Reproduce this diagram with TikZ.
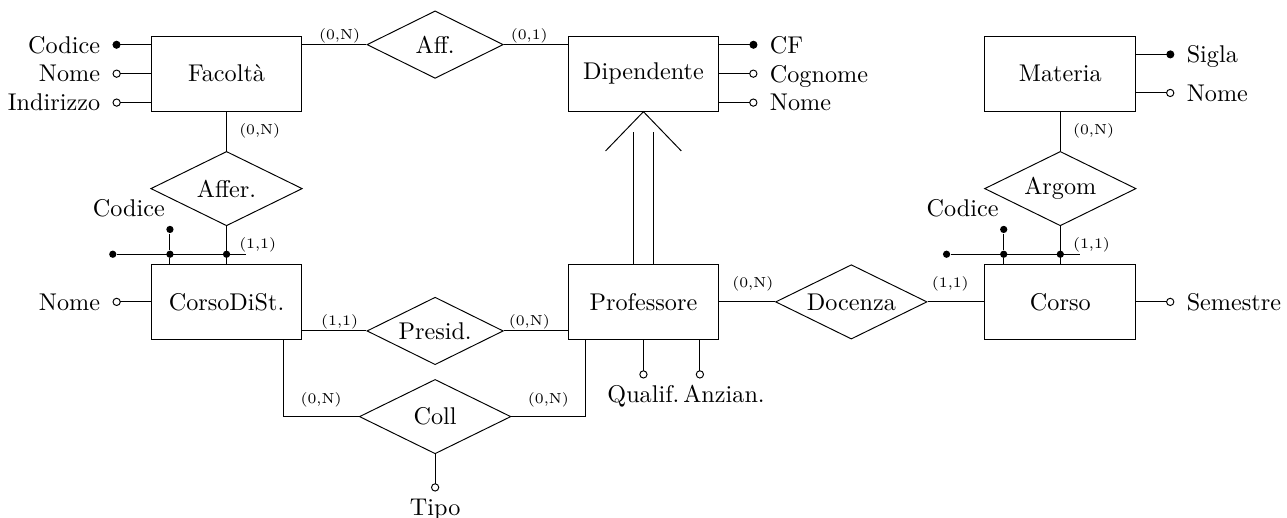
\documentclass[tikz,border=0pt]{standalone}
\usepackage{fontspec}
\usetikzlibrary{arrows.meta,positioning,shapes.geometric}

\begin{document}
\begin{tikzpicture}[
  node distance=2.21cm and 3.85cm,
  entity/.style={draw, minimum width=2.19cm, minimum height=1.09cm, inner sep=0pt},
  rel/.style={draw, diamond, aspect=2, inner sep=0pt, minimum width=2.2cm, minimum height=1.08cm},
  smallrel/.style={rel, minimum width=1.98cm, minimum height=0.98cm},
  attrtext/.style={inner sep=3.33pt, text depth=0pt},
  attrline/.style={-{Circle[open, length=3.4pt]}, shorten >=1.6pt},
  keyline/.style={-{Circle[length=3.3pt]}, shorten >=1.6pt},
  keydot/.style={circle, fill, inner sep=0pt, minimum size=3pt},
  card/.style={font=\fontsize{6pt}{7pt}\selectfont, inner sep=0.5pt}
]
\useasboundingbox (0,0) rectangle (18.69,-7.51);
\node[entity] (facolta) at (3.29,-1.07) {Facoltà};
\node[entity, right=of facolta] (dipendente) {Dipendente};
\node[entity, right=of dipendente] (materia) {Materia};
\node[entity, below=of facolta] (corsodist) {CorsoDiSt.};
\node[entity, below=of dipendente] (professore) {Professore};
\node[entity, below=of materia] (corso) {Corso};

\node[smallrel, right=0.93cm of facolta.north east, yshift=-0.13cm] (aff) {Aff.};
\node[rel, below=0.57cm of facolta] (affer) {Affer.};
\node[rel, below=0.57cm of materia] (argom) {Argom};
\node[smallrel, right=0.93cm of corsodist.south east, yshift=0.13cm] (presid) {Presid.};
\node[rel, right=0.81cm of professore] (docenza) {Docenza};
\node[rel, below=0.2cm of presid] (coll) {Coll};

\draw (aff.west -| facolta.east) -- (aff.west) node[card, pos=0.58, above] (caff1) {(0,N)};
\draw (aff.east -| dipendente.west) -- (aff.east) node[card, pos=0.6, above] (caff2) {(0,1)};
\draw (facolta) -- (affer) node[card, midway, right=0.16cm] (caffer1) {(0,N)};
\draw (affer) -- (corsodist) node[card, midway, right=0.16cm] (caffer2) {(1,1)};
\draw (materia) -- (argom) node[card, midway, right=0.16cm] (cargom1) {(0,N)};
\draw (argom) -- (corso) node[card, midway, right=0.16cm] (cargom2) {(1,1)};
\draw (presid.west -| corsodist.east) -- (presid.west) node[card, pos=0.58, above] (cpresid1) {(1,1)};
\draw (presid.east -| professore.west) -- (presid.east) node[card, pos=0.6, above] (cpresid2) {(0,N)};
\draw (professore) -- (docenza) node[card, pos=0.6, above=0.13cm] (cdoc1) {(0,N)};
\draw (corso) -- (docenza) node[card, pos=0.6, above=0.13cm] (cdoc2) {(1,1)};
\draw ([xshift=-0.28cm]corsodist.south east) |- (coll.west) node[card, pos=0.75, above=0.12cm] (ccoll1) {(0,N)};
\draw ([xshift=0.26cm]professore.south west) |- (coll.east) node[card, pos=0.75, above=0.12cm] (ccoll2) {(0,N)};

\draw ([xshift=-0.14cm]professore.north) -- ([xshift=-0.14cm, yshift=-0.29cm]dipendente.south);
\draw ([xshift=0.14cm]professore.north) -- ([xshift=0.14cm, yshift=-0.29cm]dipendente.south);
\draw ([xshift=-0.55cm, yshift=-0.57cm]dipendente.south) -- (dipendente.south) -- ([xshift=0.55cm, yshift=-0.57cm]dipendente.south);

\node[attrtext, left=0.61cm of facolta.west, yshift=0.42cm] (fcodice) {Codice};
\node[attrtext, left=0.61cm of facolta.west] (fnome) {Nome};
\node[attrtext, left=0.61cm of facolta.west, yshift=-0.42cm] (findirizzo) {Indirizzo};
\draw[keyline] (facolta.west |- fcodice) -- (fcodice);
\draw[attrline] (facolta.west |- fnome) -- (fnome);
\draw[attrline] (facolta.west |- findirizzo) -- (findirizzo);

\node[attrtext, right=0.61cm of dipendente.east, yshift=0.42cm] (dcf) {CF};
\node[attrtext, right=0.61cm of dipendente.east] (dcognome) {Cognome};
\node[attrtext, right=0.61cm of dipendente.east, yshift=-0.42cm] (dnome) {Nome};
\draw[keyline] (dipendente.east |- dcf) -- (dcf);
\draw[attrline] (dipendente.east |- dcognome) -- (dcognome);
\draw[attrline] (dipendente.east |- dnome) -- (dnome);

\node[attrtext, right=0.61cm of materia.east, yshift=0.28cm] (msigla) {Sigla};
\node[attrtext, right=0.61cm of materia.east, yshift=-0.28cm] (mnome) {Nome};
\draw[keyline] (materia.east |- msigla) -- (msigla);
\draw[attrline] (materia.east |- mnome) -- (mnome);

\node[attrtext, right=0.61cm of corso.east] (csemestre) {Semestre};
\draw[attrline] (corso) -- (csemestre);
\node[attrtext, left=0.61cm of corsodist.west] (cnome) {Nome};
\draw[attrline] (corsodist) -- (cnome);

\node[attrtext, below=0.54cm of professore] (qualif) {Qualif.};
\node[attrtext, below=0.54cm of professore, xshift=1.17cm] (anzian) {Anzian.};
\coordinate (anzroot) at ([xshift=0.82cm]professore.south);
\draw[attrline, shorten >=-0.6pt] (professore) -- (qualif);
\draw[attrline, shorten >=-0.6pt] (anzroot) -- (anzroot |- anzian.north);
\node[attrtext, below=0.52cm of coll] (tipo) {Tipo};
\draw[attrline, shorten >=-0.6pt] (coll) -- (tipo);

\node[keydot] (ks1) at ([xshift=-0.55cm, yshift=0.14cm]corsodist.north west) {};
\node[keydot] (kj1) at ([xshift=0.28cm, yshift=0.14cm]corsodist.north west) {};
\node[keydot] (kj2) at ([yshift=0.14cm]corsodist.north) {};
\coordinate (ke1) at ([xshift=0.28cm, yshift=0.14cm]corsodist.north);
\node[keydot] (kt1) at ([yshift=0.36cm]kj1) {};
\node[attrtext, anchor=south east] (kcodice1) at ([xshift=0.05cm, yshift=0.07cm]kt1) {Codice};
\draw (ks1) -- (ke1);
\draw (kt1) -- (kj1) -- (kj1 |- corsodist.north);

\node[keydot] (ks2) at ([xshift=-0.55cm, yshift=0.14cm]corso.north west) {};
\node[keydot] (kj3) at ([xshift=0.28cm, yshift=0.14cm]corso.north west) {};
\node[keydot] (kj4) at ([yshift=0.14cm]corso.north) {};
\coordinate (ke2) at ([xshift=0.28cm, yshift=0.14cm]corso.north);
\node[keydot] (kt2) at ([yshift=0.36cm]kj3) {};
\node[attrtext, anchor=south east] (kcodice2) at ([xshift=0.05cm, yshift=0.07cm]kt2) {Codice};
\draw (ks2) -- (ke2);
\draw (kt2) -- (kj3) -- (kj3 |- corso.north);
\end{tikzpicture}
\end{document}
